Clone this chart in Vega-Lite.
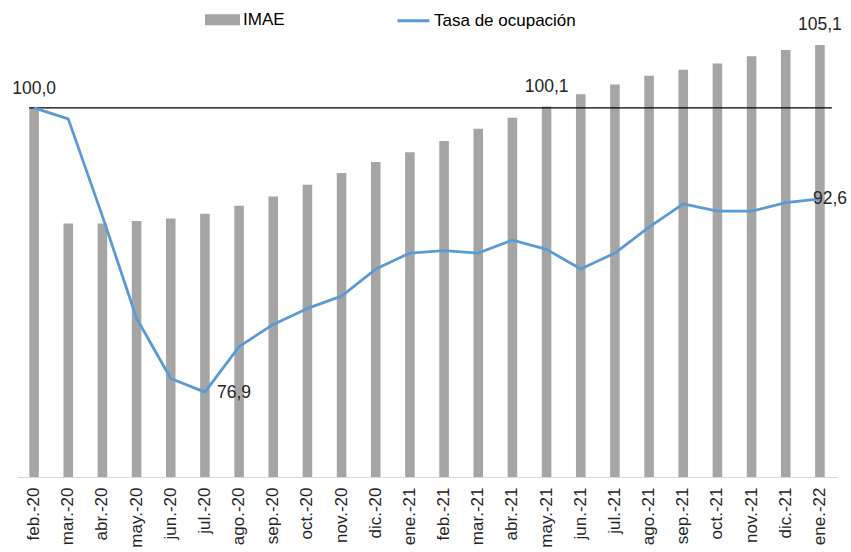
{
  "$schema": "https://vega.github.io/schema/vega-lite/v6.json",
  "width": 820,
  "height": 443,
  "autosize": "none",
  "padding": {"left": 17, "top": 34, "right": 14, "bottom": 75},
  "background": "white",
  "config": {
    "view": {"stroke": null},
    "font": "Liberation Sans",
    "locale": {"number": {"decimal": ",", "thousands": ".", "grouping": [3], "currency": ["", ""]}}
  },
  "data": {
    "values": [
      {"mes": "feb.-20", "imae": 100.0, "tasa": 100.0},
      {"mes": "mar.-20", "imae": 90.6, "tasa": 99.1},
      {"mes": "abr.-20", "imae": 90.6, "tasa": 91.2},
      {"mes": "may.-20", "imae": 90.8, "tasa": 82.9},
      {"mes": "jun.-20", "imae": 91.0, "tasa": 78.0},
      {"mes": "jul.-20", "imae": 91.4, "tasa": 76.9},
      {"mes": "ago.-20", "imae": 92.05, "tasa": 80.6},
      {"mes": "sep.-20", "imae": 92.8, "tasa": 82.4},
      {"mes": "oct.-20", "imae": 93.75, "tasa": 83.7},
      {"mes": "nov.-20", "imae": 94.7, "tasa": 84.7},
      {"mes": "dic.-20", "imae": 95.6, "tasa": 86.9},
      {"mes": "ene.-21", "imae": 96.4, "tasa": 88.2},
      {"mes": "feb.-21", "imae": 97.3, "tasa": 88.4},
      {"mes": "mar.-21", "imae": 98.3, "tasa": 88.2},
      {"mes": "abr.-21", "imae": 99.2, "tasa": 89.25},
      {"mes": "may.-21", "imae": 100.1, "tasa": 88.5},
      {"mes": "jun.-21", "imae": 101.1, "tasa": 86.9},
      {"mes": "jul.-21", "imae": 101.9, "tasa": 88.2},
      {"mes": "ago.-21", "imae": 102.6, "tasa": 90.3},
      {"mes": "sep.-21", "imae": 103.1, "tasa": 92.2},
      {"mes": "oct.-21", "imae": 103.6, "tasa": 91.6},
      {"mes": "nov.-21", "imae": 104.2, "tasa": 91.6},
      {"mes": "dic.-21", "imae": 104.7, "tasa": 92.3},
      {"mes": "ene.-22", "imae": 105.1, "tasa": 92.6}
    ]
  },
  "encoding": {
    "x": {
      "field": "mes", "type": "nominal", "sort": null,
      "scale": {"paddingInner": 0.72, "paddingOuter": 0.36},
      "axis": {
        "title": null, "labelAngle": -90, "labelFontSize": 17, "labelColor": "#262626",
        "ticks": false, "domainColor": "#D9D9D9", "domainWidth": 1.2, "labelPadding": 10, "grid": false
      }
    }
  },
  "layer": [
    {
      "mark": {"type": "bar", "color": "#A5A5A5"},
      "transform": [{"calculate": "'IMAE'", "as": "serie"}],
      "encoding": {
        "y": {"field": "imae", "type": "quantitative", "scale": {"domain": [70, 106], "zero": false, "nice": false}, "axis": null},
        "y2": {"datum": 70},
        "color": {
          "field": "serie", "type": "nominal",
          "scale": {"domain": ["IMAE", "Tasa de ocupación"], "range": ["#A5A5A5", "#5B9BD5"]},
          "legend": {
            "orient": "none", "legendX": 188, "legendY": -32, "direction": "horizontal", "title": null,
            "symbolSize": 1024, "labelFontSize": 17, "labelColor": "#000000", "labelOffset": 3, "columnPadding": 106,
            "symbolStrokeWidth": 3,
            "encode": {
              "symbols": {
                "update": {
                  "shape": {"signal": "datum.value === 'IMAE' ? 'M-1,-0.25H1V0.25H-1Z' : 'M-1,0H1'"},
                  "fill": {"signal": "datum.value === 'IMAE' ? '#A5A5A5' : 'transparent'"},
                  "stroke": {"signal": "datum.value === 'IMAE' ? 'transparent' : '#5B9BD5'"},
                  "strokeWidth": {"value": 3},
                  "opacity": {"value": 1}
                }
              }
            }
          }
        }
      }
    },
    {
      "data": {"values": [{"desde": "feb.-20", "hasta": "ene.-22", "ref": 100}]},
      "mark": {"type": "rule", "color": "#000000", "strokeWidth": 1.4, "xOffset": -5, "x2Offset": 12},
      "encoding": {
        "x": {"field": "desde", "type": "nominal"},
        "x2": {"field": "hasta"},
        "y": {"field": "ref", "type": "quantitative"}
      }
    },
    {
      "mark": {"type": "line", "strokeWidth": 2.8, "strokeJoin": "round"},
      "transform": [{"calculate": "'Tasa de ocupación'", "as": "serie"}],
      "encoding": {
        "y": {"field": "tasa", "type": "quantitative"},
        "color": {"field": "serie", "type": "nominal"}
      }
    },
    {
      "transform": [{"filter": "datum.mes === 'may.-21' || datum.mes === 'ene.-22'"}],
      "mark": {"type": "text", "fontSize": 17.5, "color": "#262626", "baseline": "bottom", "dy": -11},
      "encoding": {
        "y": {"field": "imae", "type": "quantitative"},
        "text": {"field": "imae", "type": "quantitative", "format": ".1f"}
      }
    },
    {
      "transform": [{"filter": "datum.mes === 'feb.-20'"}],
      "mark": {"type": "text", "fontSize": 17.5, "color": "#262626", "baseline": "bottom", "dy": -10},
      "encoding": {
        "y": {"field": "tasa", "type": "quantitative"},
        "text": {"field": "tasa", "type": "quantitative", "format": ".1f"}
      }
    },
    {
      "transform": [{"filter": "datum.mes === 'jul.-20'"}],
      "mark": {"type": "text", "fontSize": 17.5, "color": "#262626", "align": "left", "baseline": "middle", "dx": 12, "dy": 1},
      "encoding": {
        "y": {"field": "tasa", "type": "quantitative"},
        "text": {"field": "tasa", "type": "quantitative", "format": ".1f"}
      }
    },
    {
      "transform": [{"filter": "datum.mes === 'ene.-22'"}],
      "mark": {"type": "text", "fontSize": 17.5, "color": "#262626", "align": "left", "baseline": "middle", "dx": -7, "dy": 0},
      "encoding": {
        "y": {"field": "tasa", "type": "quantitative"},
        "text": {"field": "tasa", "type": "quantitative", "format": ".1f"}
      }
    }
  ]
}
